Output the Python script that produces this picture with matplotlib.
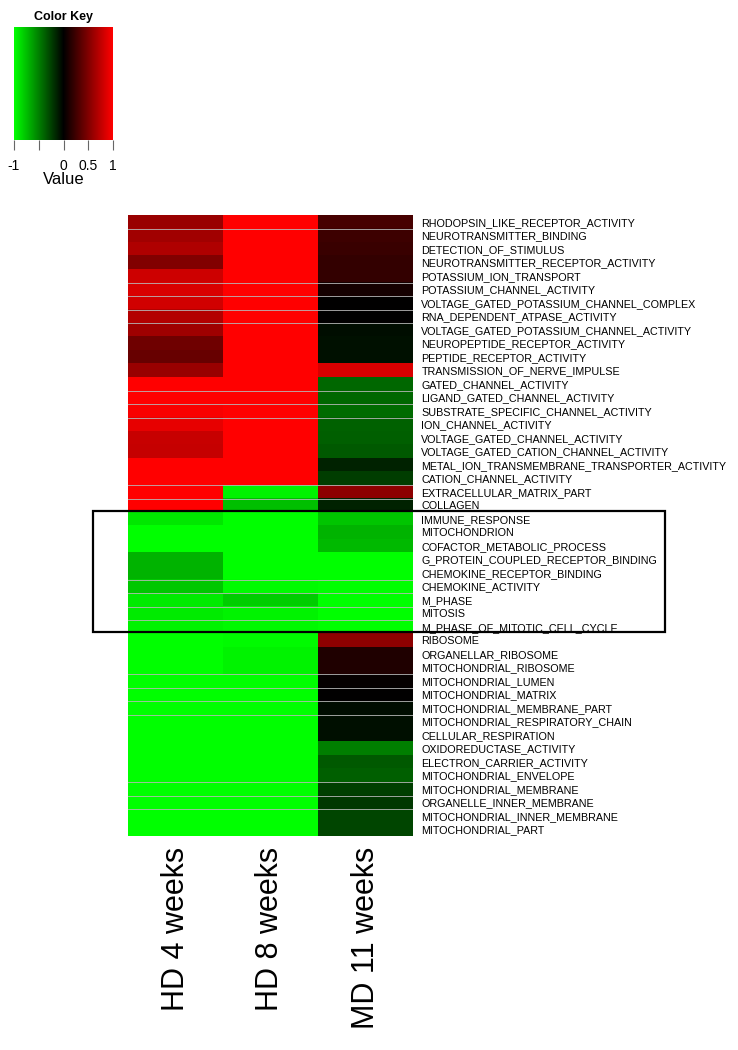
import numpy as np
import matplotlib
matplotlib.use("Agg")
import matplotlib.pyplot as plt
from matplotlib.colors import LinearSegmentedColormap
from matplotlib.patches import Rectangle

plt.rcParams['font.family'] = ['Liberation Sans', 'DejaVu Sans']

# ---------------- data ----------------
columns = ["HD 4 weeks", "HD 8 weeks", "MD 11 weeks"]
terms = [
    "RHODOPSIN_LIKE_RECEPTOR_ACTIVITY", "NEUROTRANSMITTER_BINDING", "DETECTION_OF_STIMULUS",
    "NEUROTRANSMITTER_RECEPTOR_ACTIVITY", "POTASSIUM_ION_TRANSPORT", "POTASSIUM_CHANNEL_ACTIVITY",
    "VOLTAGE_GATED_POTASSIUM_CHANNEL_COMPLEX", "RNA_DEPENDENT_ATPASE_ACTIVITY",
    "VOLTAGE_GATED_POTASSIUM_CHANNEL_ACTIVITY", "NEUROPEPTIDE_RECEPTOR_ACTIVITY",
    "PEPTIDE_RECEPTOR_ACTIVITY", "TRANSMISSION_OF_NERVE_IMPULSE", "GATED_CHANNEL_ACTIVITY",
    "LIGAND_GATED_CHANNEL_ACTIVITY", "SUBSTRATE_SPECIFIC_CHANNEL_ACTIVITY", "ION_CHANNEL_ACTIVITY",
    "VOLTAGE_GATED_CHANNEL_ACTIVITY", "VOLTAGE_GATED_CATION_CHANNEL_ACTIVITY",
    "METAL_ION_TRANSMEMBRANE_TRANSPORTER_ACTIVITY", "CATION_CHANNEL_ACTIVITY",
    "EXTRACELLULAR_MATRIX_PART", "COLLAGEN", "IMMUNE_RESPONSE", "MITOCHONDRION",
    "COFACTOR_METABOLIC_PROCESS", "G_PROTEIN_COUPLED_RECEPTOR_BINDING",
    "CHEMOKINE_RECEPTOR_BINDING", "CHEMOKINE_ACTIVITY", "M_PHASE", "MITOSIS",
    "M_PHASE_OF_MITOTIC_CELL_CYCLE", "RIBOSOME", "ORGANELLAR_RIBOSOME", "MITOCHONDRIAL_RIBOSOME",
    "MITOCHONDRIAL_LUMEN", "MITOCHONDRIAL_MATRIX", "MITOCHONDRIAL_MEMBRANE_PART",
    "MITOCHONDRIAL_RESPIRATORY_CHAIN", "CELLULAR_RESPIRATION", "OXIDOREDUCTASE_ACTIVITY",
    "ELECTRON_CARRIER_ACTIVITY", "MITOCHONDRIAL_ENVELOPE", "MITOCHONDRIAL_MEMBRANE",
    "ORGANELLE_INNER_MEMBRANE", "MITOCHONDRIAL_INNER_MEMBRANE", "MITOCHONDRIAL_PART",
]
hd4 = [0.60, 0.63, 0.68, 0.50, 0.80, 0.85, 0.82, 0.70, 0.62, 0.43, 0.40, 0.60,
       1.00, 1.00, 0.97, 0.90, 0.78, 0.77, 1.00, 1.00, 1.00, 1.00,
       -0.90, -1.00, -1.00, -0.70, -0.70, -0.78, -0.92, -0.92, -0.95,
       -1.00, -1.00, -1.00, -1.00, -1.00, -1.00, -1.00, -1.00, -1.00, -1.00,
       -1.00, -1.00, -1.00, -1.00, -1.00]
hd8 = [1.00, 1.00, 1.00, 1.00, 1.00, 1.00, 1.00, 1.00, 1.00, 1.00, 1.00, 1.00,
       1.00, 1.00, 1.00, 1.00, 1.00, 1.00, 1.00, 1.00, -0.95, -0.75,
       -1.00, -1.00, -1.00, -1.00, -1.00, -0.98, -0.80, -0.95, -0.97,
       -0.98, -0.95, -0.95, -1.00, -1.00, -1.00, -1.00, -1.00, -1.00, -1.00,
       -1.00, -1.00, -1.00, -1.00, -1.00]
md11 = [0.28, 0.24, 0.22, 0.20, 0.20, 0.08, 0.00, 0.00, -0.05, -0.07, -0.07, 0.85,
        -0.40, -0.40, -0.42, -0.38, -0.37, -0.35, -0.14, -0.24, 0.55, -0.14,
        -0.77, -0.70, -0.72, -1.00, -1.00, -1.00, -1.00, -1.00, -1.00,
        0.55, 0.12, 0.12, 0.02, 0.00, -0.05, -0.06, -0.06, -0.50, -0.35,
        -0.37, -0.25, -0.22, -0.27, -0.27]
key_ticks = [-1, -0.5, 0, 0.5, 1]
key_ticklabels = ["-1", "", "0", "0.5", "1"]
# row boundaries showing faint light separator lines in the image
sep_after = [1, 5, 6, 7, 8, 13, 14, 15, 20, 21, 27, 28, 29, 30, 34, 35, 36, 37, 42, 43, 44]
box_rows = (22, 31)  # rows enclosed by the black box (0-based start, end exclusive)

# ---------------- figure ----------------
W, H = 738, 1050
fig = plt.figure(figsize=(W / 100, H / 100), dpi=100)

def fax(x0, y0, x1, y1):
    return fig.add_axes([x0 / W, 1 - y1 / H, (x1 - x0) / W, (y1 - y0) / H])

cmap = LinearSegmentedColormap.from_list("gbr", [(0, 1, 0), (0, 0, 0), (1, 0, 0)])

# heatmap
hx0, hy0, hx1, hy1 = 128, 215, 413, 836
ax = fax(hx0, hy0, hx1, hy1)
mat = np.array([hd4, hd8, md11]).T
n = len(terms)
ax.imshow(mat, cmap=cmap, vmin=-1, vmax=1, aspect="auto", interpolation="nearest",
          extent=(-0.5, 2.5, n - 0.5, -0.5))
for k in sep_after:
    ax.axhline(k - 0.5, color="#b8b8b8", lw=0.6)
ax.set_xlim(-0.5, 2.5)
ax.set_ylim(n - 0.5, -0.5)
for s in ax.spines.values():
    s.set_visible(False)
ax.set_xticks([])
ax.yaxis.tick_right()
ax.set_yticks(range(n))
ax.set_yticklabels(terms, fontsize=7.75)
ax.tick_params(axis="y", length=0, pad=6)
for i, c in enumerate(columns):
    ax.text(i, n - 0.5 + 0.8, c, rotation=90, ha="center", va="top", fontsize=22)

# black box around a group of rows
rh = (hy1 - hy0) / n
by0 = hy0 + box_rows[0] * rh - 1
by1 = hy0 + box_rows[1] * rh - 2
bx0, bx1 = 93, 665
fig.patches.append(Rectangle((bx0 / W, 1 - by1 / H), (bx1 - bx0) / W, (by1 - by0) / H,
                             transform=fig.transFigure, fill=False, ec="black", lw=1.6))

# colour key
kax = fax(14, 27, 113, 140)
grad = np.linspace(-1, 1, 256)[None, :]
kax.imshow(grad, cmap=cmap, vmin=-1, vmax=1, aspect="auto", extent=(-1, 1, 0, 1))
kax.set_xlim(-1, 1)
kax.set_yticks([])
kax.set_xticks(key_ticks)
kax.set_xticklabels(key_ticklabels, fontsize=10)
kax.tick_params(axis="x", length=7, width=0.8, color="#666666", pad=7)
for s in kax.spines.values():
    s.set_visible(False)
kax.set_title("Color Key", fontsize=9, fontweight="bold", pad=5)
kax.set_xlabel("Value", fontsize=12, labelpad=-1)

fig.savefig("out.png", dpi=100, facecolor="white")
